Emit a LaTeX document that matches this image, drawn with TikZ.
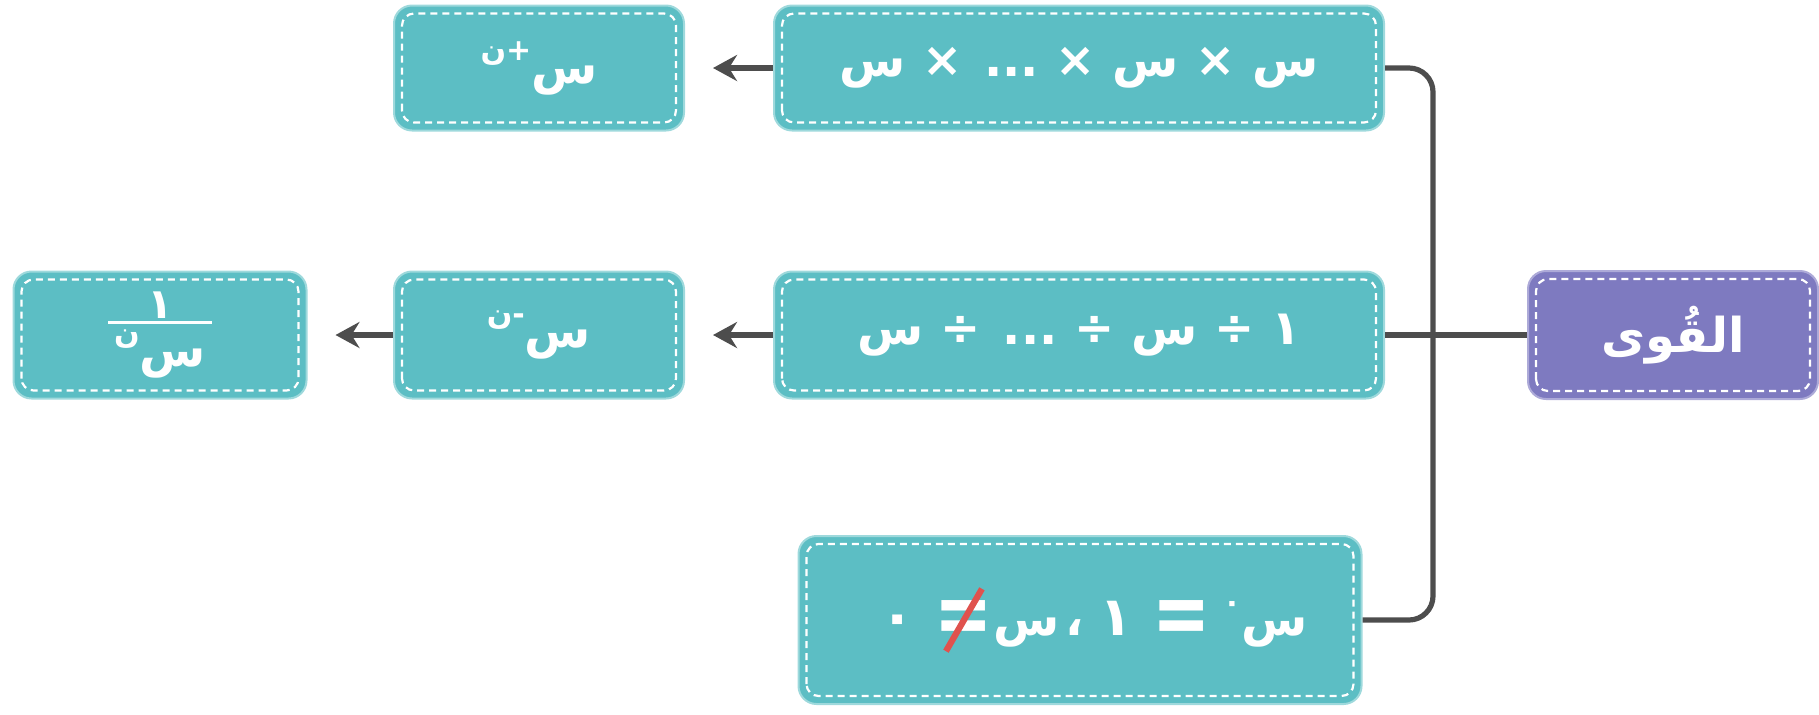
\documentclass[tikz,border=0pt]{standalone}
\usepackage{fontspec}
\usetikzlibrary{arrows.meta,calc}
\TeXXeTstate=1
\newfontfamily\arabicfont[Script=Arabic]{DejaVu Sans}
\definecolor{tealfill}{HTML}{5CBEC4}
\definecolor{tealedge}{HTML}{9ED9DC}
\definecolor{purfill}{HTML}{7E7AC0}
\definecolor{puredge}{HTML}{ADAAD8}
\definecolor{conncol}{HTML}{4D4D4D}
\definecolor{slashred}{HTML}{E0524E}
\newcommand{\arsup}[1]{\raisebox{0.48em}{\fontsize{15}{15}\selectfont\beginR #1\endR}}
\newcommand{\bigeq}{\raisebox{-0.18em}{\scalebox{1.45}[1.9]{=}}}
\newsavebox{\myeqbox}
\newcommand{\neqs}{\sbox{\myeqbox}{\bigeq}\usebox{\myeqbox}\hspace{-\wd\myeqbox}\makebox[\wd\myeqbox]{\raisebox{-0.35em}{\textcolor{slashred}{\rotatebox{60}{\rule{1.5em}{0.13em}}}}}}
\begin{document}
\begin{tikzpicture}[x=0.5pt,y=-0.5pt,
  box/.style={rounded corners=9pt, draw=tealedge, line width=1pt, fill=tealfill, text=white,
    font=\arabicfont\bfseries\fontsize{24}{28}\selectfont, inner sep=0pt, minimum height=62.5pt},
  purbox/.style={box, fill=purfill, draw=puredge},
  conn/.style={draw=conncol, line width=2.6pt},
  arr/.style={conn, -{Stealth[length=12pt,width=13pt,inset=4pt]}, shorten >=14pt},
  innerdash/.style={draw=white, line width=1.1pt, dash pattern=on 3.5pt off 2.5pt, rounded corners=6pt}
]
\useasboundingbox (0,0) rectangle (1819,714);
\node[box, minimum width=145pt] (A) at (539,68) {\beginR س\arsup{+ن}\endR};
\node[box, minimum width=305pt] (B) at (1079,68) {\beginR س × س × ... × س\endR};
\node[box, minimum width=146.5pt, minimum height=63.5pt] (C) at (160,335)
  {\vbox{\hbox to 52pt{\hfil{\fontsize{21}{21}\selectfont ١}\hfil}\kern1.5pt\hrule height 1.5pt\kern3pt
   \hbox to 52pt{\hfil\beginR س\arsup{ن}\endR\hfil}}};
\node[box, minimum width=145pt, minimum height=63.5pt] (D) at (539,335) {\beginR س\arsup{-ن}\endR};
\node[box, minimum width=305pt, minimum height=63.5pt] (E) at (1079,335) {\beginR ١ ÷ س ÷ ... ÷ س\endR};
\node[purbox, minimum width=145pt, minimum height=64pt] (P) at (1673,335) {\beginR القُوى\endR};
\node[box, minimum width=281.5pt, minimum height=84pt] (F) at (1080,620)
  {\hspace{14pt}{\fontsize{28}{28}\selectfont ٠}\hspace{10pt}\neqs س\hspace{3pt}،\hspace{8pt}{\fontsize{27}{27}\selectfont ١}\hspace{10pt}\bigeq\hspace{6pt}\arsup{٠}س};
\foreach \n in {A,B,C,D,E,P,F}{
  \draw[innerdash] ($(\n.south west)+(4.5pt,4.5pt)$) rectangle ($(\n.north east)+(-4.5pt,-4.5pt)$);
}
\coordinate (vx) at (1433,0);
\draw[conn, rounded corners=12pt] (B.east) -- (B.east -| vx) -- (F.east -| vx) -- (F.east);
\draw[conn] (E.east) -- (P.west);
\draw[arr] (B.west) -- (A.east);
\draw[arr] (E.west) -- (D.east);
\draw[arr] (D.west) -- (C.east);
\end{tikzpicture}
\end{document}
